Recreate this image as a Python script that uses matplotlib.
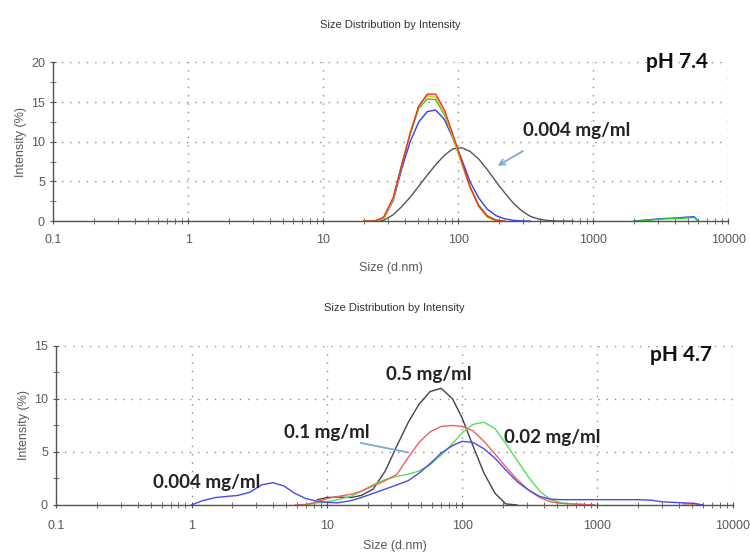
import numpy as np
import matplotlib
matplotlib.use("Agg")
import matplotlib.pyplot as plt
from matplotlib.ticker import FixedLocator, NullFormatter

nan = np.nan

# ---------------- data: pH 7.4 (top) ----------------
sizes_top = [20, 24, 28, 33, 38, 44, 51, 59, 68, 79, 91, 106, 122, 142, 164, 190, 220, 255, 295, 342, 396, 459, 531, 615, 712,
             2000, 2300, 2700, 3100, 3600, 4200, 4900, 5600, 6000]
top_red = [0, 0, 0.5, 3.0, 7.0, 11.0, 14.5, 16.0, 16.0, 14.0, 11.0, 7.6, 4.4, 1.9, 0.6, 0.1, 0, nan, nan, nan, nan, nan, nan, nan, nan,
           nan, nan, nan, nan, nan, nan, nan, nan, nan]
top_yellow = [0, 0, 0.3, 2.8, 7.0, 11.2, 14.5, 15.8, 15.6, 13.6, 10.7, 7.3, 4.2, 1.8, 0.5, 0.05, 0, nan, nan, nan, nan, nan, nan, nan, nan,
              nan, nan, nan, nan, nan, nan, nan, nan, nan]
top_green = [0, 0, 0.3, 2.8, 7.0, 11.0, 14.2, 15.4, 15.3, 13.4, 10.6, 7.3, 4.3, 2.0, 0.7, 0.15, 0, nan, nan, nan, nan, nan, nan, nan, nan,
             0, 0.05, 0.15, 0.25, 0.3, 0.35, 0.4, 0.45, 0]
top_blue = [0, 0, 0.3, 2.6, 6.5, 10.0, 12.5, 13.8, 14.0, 12.8, 10.5, 7.8, 5.0, 2.9, 1.5, 0.7, 0.3, 0.1, 0.02, 0, nan, nan, nan, nan, nan,
            0, 0.1, 0.2, 0.3, 0.35, 0.4, 0.5, 0.55, 0]
top_gray = [0, 0, 0.1, 0.8, 1.8, 3.0, 4.4, 5.8, 7.1, 8.3, 9.1, 9.25, 8.8, 7.8, 6.5, 5.0, 3.6, 2.3, 1.3, 0.6, 0.25, 0.08, 0.02, 0, 0,
            nan, nan, nan, nan, nan, nan, nan, nan, nan]

# ---------------- data: pH 4.7 (bottom) ----------------
sizes_bot = [1.0, 1.2, 1.5, 1.8, 2.2, 2.7, 3.3, 4.0, 4.8, 5.8, 7.0, 8.5, 10, 12, 15, 18, 22, 27, 33, 40, 48, 58, 70, 85,
             100, 120, 145, 175, 210, 255, 310, 375, 450, 540, 650, 790, 950, 1150, 1400, 1700, 2000, 2500, 3000, 3600,
             4300, 5200, 6000]
bot_blue_0004 = [0, 0.4, 0.7, 0.8, 0.9, 1.2, 1.9, 2.1, 1.8, 1.1, 0.6, 0.35, 0.25, 0.2, 0.4, 0.7, 1.1, 1.5, 1.9, 2.3, 3.0, 3.9, 4.9, 5.6,
                 6.0, 5.9, 5.3, 4.4, 3.3, 2.2, 1.4, 0.8, 0.55, 0.5, 0.5, 0.5, 0.5, 0.5, 0.5, 0.5, 0.5, 0.45, 0.3, 0.25,
                 0.2, 0.15, 0]
bot_red_01 = [nan, nan, nan, nan, nan, nan, nan, nan, nan, 0, 0.05, 0.3, 0.6, 0.8, 1.0, 1.3, 1.8, 2.3, 2.9, 4.5, 5.9, 6.9, 7.4, 7.5,
              7.4, 7.0, 6.0, 4.8, 3.6, 2.4, 1.4, 0.7, 0.3, 0.15, 0.1, 0.05, 0, nan, nan, nan, nan, nan, nan, nan,
              0.1, 0.1, 0]
bot_green_002 = [nan, nan, nan, nan, nan, nan, nan, nan, nan, nan, 0, 0.2, 0.3, 0.5, 0.8, 1.3, 1.9, 2.4, 2.7, 2.9, 3.2, 3.8, 4.7, 5.8,
                 6.8, 7.6, 7.8, 7.2, 5.8, 4.2, 2.6, 1.3, 0.5, 0.2, 0.1, 0.05, 0, nan, nan, nan, nan, nan, nan, nan,
                 nan, nan, nan]
bot_gray_05 = [nan, nan, nan, nan, nan, nan, nan, nan, nan, nan, nan, 0.5, 0.7, 0.75, 0.7, 0.9, 1.5, 3.2, 5.6, 7.8, 9.5, 10.7, 11.0, 10.0,
               8.2, 5.6, 3.0, 1.1, 0.1, 0, nan, nan, nan, nan, nan, nan, nan, nan, nan, nan, nan, nan, nan, nan,
               nan, nan, nan]

x_ticks = [0.1, 1, 10, 100, 1000, 10000]
x_ticklabels = ["0.1", "1", "10", "100", "1000", "10000"]

# ---------------- styling ----------------
tick_font = ["Liberation Sans", "DejaVu Sans"]
ann_font = ["Lato", "DejaVu Sans"]
label_col = "#5a5a5a"
ann_size = 13.5

fig = plt.figure(figsize=(7.5, 5.57), dpi=100)
ax1 = fig.add_axes([0.071, 0.603, 0.900, 0.285])
ax2 = fig.add_axes([0.075, 0.0934, 0.902, 0.2856])


def style(ax, ymax, ystep, xpad, lpad):
    ax.set_xscale("log")
    ax.set_xlim(0.1, 10000)
    ax.set_ylim(0, ymax)
    ax.set_xticks(x_ticks)
    ax.set_xticklabels(x_ticklabels)
    minors = [m * 10.0 ** e for e in range(-1, 4) for m in range(2, 10)]
    ax.xaxis.set_minor_locator(FixedLocator(minors))
    ax.xaxis.set_minor_formatter(NullFormatter())
    ax.set_yticks(np.arange(0, ymax + 0.1, ystep))
    ax.yaxis.set_minor_locator(FixedLocator(np.arange(ystep / 2, ymax, ystep)))
    for s in ["top", "right"]:
        ax.spines[s].set_visible(False)
    for s in ["left", "bottom"]:
        ax.spines[s].set_color("#555555")
        ax.spines[s].set_linewidth(1.0)
    ax.grid(True, which="major", linestyle=(0, (1, 5)), color="#8a8a8a", linewidth=1.0)
    ax.tick_params(which="major", direction="inout", length=5, color="#555555", labelcolor=label_col, labelsize=9)
    ax.tick_params(axis="x", which="major", pad=xpad)
    ax.tick_params(which="minor", direction="inout", length=4, color="#555555")
    for lab in ax.get_xticklabels() + ax.get_yticklabels():
        lab.set_family(tick_font)
    ax.set_xlabel("Size (d.nm)", family=tick_font, fontsize=9, color=label_col, labelpad=lpad)
    ax.set_ylabel("Intensity (%)", family=tick_font, fontsize=9, color=label_col, labelpad=3)
    ax.set_title("Size Distribution by Intensity", family=tick_font, fontsize=8, color="#333333", pad=25)


# top
lw = 1.0
ax1.plot(sizes_top, top_gray, color="#555555", lw=lw)
ax1.plot(sizes_top, top_blue, color="#3a3af0", lw=lw)
ax1.plot(sizes_top, top_green, color="#22d022", lw=lw)
ax1.plot(sizes_top, top_yellow, color="#e8c000", lw=lw)
ax1.plot(sizes_top, top_red, color="#e83030", lw=lw)
style(ax1, 20, 5, 7, 11)
ax1.text(0.97, 1.0, "pH 7.4", transform=ax1.transAxes, ha="right", va="center",
         family=ann_font, fontweight="bold", fontsize=15, color="#111111")
ax1.text(300, 11.4, "0.004 mg/ml", ha="left", va="center",
         family=ann_font, fontweight="bold", fontsize=ann_size, color="#222222")
ax1.annotate("", xy=(188, 6.8), xytext=(314, 9.0),
             arrowprops=dict(arrowstyle="->", color="#7fa7d8", lw=1.3))

# bottom
ax2.plot(sizes_bot, bot_gray_05, color="#444444", lw=lw)
ax2.plot(sizes_bot, bot_green_002, color="#55e055", lw=lw)
ax2.plot(sizes_bot, bot_red_01, color="#f06060", lw=lw)
ax2.plot(sizes_bot, bot_blue_0004, color="#4a4ae8", lw=lw)
style(ax2, 15, 5, 8, 6)
ax2.text(0.97, 0.94, "pH 4.7", transform=ax2.transAxes, ha="right", va="center",
         family=ann_font, fontweight="bold", fontsize=15, color="#111111")
ax2.text(27.5, 12.35, "0.5 mg/ml", ha="left", va="center", family=ann_font, fontweight="bold", fontsize=ann_size, color="#222222")
ax2.text(4.8, 6.8, "0.1 mg/ml", ha="left", va="center", family=ann_font, fontweight="bold", fontsize=ann_size, color="#222222")
ax2.text(205, 6.4, "0.02 mg/ml", ha="left", va="center", family=ann_font, fontweight="bold", fontsize=ann_size, color="#222222")
ax2.text(0.52, 2.1, "0.004 mg/ml", ha="left", va="center", family=ann_font, fontweight="bold", fontsize=ann_size, color="#222222")
ax2.annotate("", xy=(42, 4.9), xytext=(17, 5.9),
             arrowprops=dict(arrowstyle="-", color="#7fa7d8", lw=1.3))

fig.savefig("out.png", dpi=100)
